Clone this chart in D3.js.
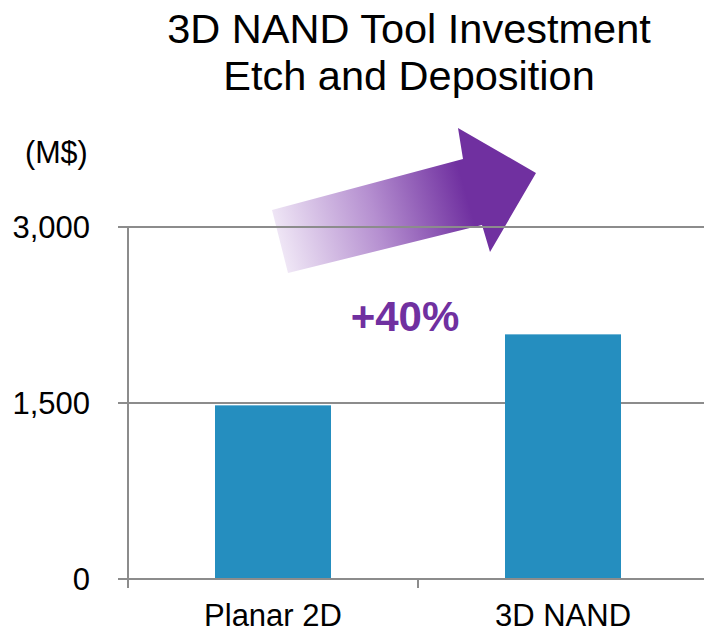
<!DOCTYPE html>
<html>
<head>
<meta charset="utf-8">
<script src="https://cdn.jsdelivr.net/npm/d3@7/dist/d3.min.js"></script>
<style>
  html, body { margin: 0; padding: 0; background: #fff; }
  svg { display: block; font-family: "Liberation Sans", Arial, sans-serif; }
</style>
</head>
<body>
<svg id="chart" width="704" height="632"></svg>
<script>
// Chart data
const categories = ["Planar 2D", "3D NAND"];
const investment = [1480, 2085];          // M$
const yTicks = [0, 1500, 3000];
const titleLines = ["3D NAND Tool Investment", "Etch and Deposition"];
const unitLabel = "(M$)";
const growthLabel = "+40%";

const svg = d3.select("#chart");
const W = 704;

const x = d3.scaleBand()
  .domain(categories)
  .range([128, 708])
  .paddingInner(0.6)
  .paddingOuter(0.3);

const y = d3.scaleLinear()
  .domain([0, 3000])
  .range([579, 227]);

const barColor = "#258ebf";
const gridColor = "#8c8c8c";
const purple = "#7030a0";

// Title
svg.append("g")
  .selectAll("text")
  .data(titleLines)
  .join("text")
  .attr("x", 409)
  .attr("y", (d, i) => 43 + i * 47)
  .attr("text-anchor", "middle")
  .attr("font-size", 41.5)
  .attr("fill", "#000")
  .text(d => d);

// Unit label
svg.append("text")
  .attr("x", 25)
  .attr("y", 163)
  .attr("font-size", 30.5)
  .attr("fill", "#000")
  .text(unitLabel);

// Growth arrow with purple fade
const defs = svg.append("defs");
const grad = defs.append("linearGradient")
  .attr("id", "arrowFade")
  .attr("gradientUnits", "userSpaceOnUse")
  .attr("x1", 275).attr("y1", 250)
  .attr("x2", 500).attr("y2", 185);
grad.append("stop").attr("offset", 0).attr("stop-color", "#f3ecf8");
grad.append("stop").attr("offset", 0.45).attr("stop-color", "#b58fd0");
grad.append("stop").attr("offset", 0.85).attr("stop-color", purple);
grad.append("stop").attr("offset", 1).attr("stop-color", purple);

const arrowPts = [
  [272, 210], [463, 159], [458, 128], [536, 173],
  [490, 252], [482, 225], [288, 273]
];
svg.append("path")
  .attr("d", d3.line()(arrowPts) + "Z")
  .attr("fill", "url(#arrowFade)");

// Horizontal gridlines (the 0 line doubles as the category axis)
const gAxisY = svg.append("g");
gAxisY.selectAll("line.grid")
  .data(yTicks)
  .join("line")
  .attr("class", "grid")
  .attr("x1", 118)
  .attr("x2", W)
  .attr("y1", d => y(d))
  .attr("y2", d => y(d))
  .attr("stroke", gridColor)
  .attr("stroke-width", 2);

// Vertical value axis
gAxisY.append("line")
  .attr("x1", 128).attr("x2", 128)
  .attr("y1", y(3000)).attr("y2", 588)
  .attr("stroke", gridColor)
  .attr("stroke-width", 2);

// Value tick labels
gAxisY.selectAll("text")
  .data(yTicks)
  .join("text")
  .attr("x", 90)
  .attr("y", d => y(d) + 10.5)
  .attr("text-anchor", "end")
  .attr("font-size", 31)
  .attr("fill", "#000")
  .text(d => d3.format(",")(d));

// Category tick mark on the boundary between the two bands
const boundary = x(categories[1]) - x.step() * x.paddingInner() / 2;
svg.append("line")
  .attr("x1", boundary)
  .attr("x2", boundary)
  .attr("y1", y(0))
  .attr("y2", 588)
  .attr("stroke", gridColor)
  .attr("stroke-width", 2);

// Bars
svg.append("g")
  .selectAll("rect")
  .data(categories.map((c, i) => ({ c, v: investment[i] })))
  .join("rect")
  .attr("x", d => x(d.c))
  .attr("width", x.bandwidth())
  .attr("y", d => y(d.v))
  .attr("height", d => y(0) - y(d.v) - 1)
  .attr("fill", barColor);

// Category labels
svg.append("g")
  .selectAll("text")
  .data(categories)
  .join("text")
  .attr("x", d => x(d) + x.bandwidth() / 2)
  .attr("y", 626)
  .attr("text-anchor", "middle")
  .attr("font-size", 31)
  .attr("fill", "#000")
  .text(d => d);

// Growth label
svg.append("text")
  .attr("x", 405)
  .attr("y", 331)
  .attr("text-anchor", "middle")
  .attr("font-size", 42)
  .attr("font-weight", "bold")
  .attr("fill", purple)
  .text(growthLabel);
</script>
</body>
</html>
